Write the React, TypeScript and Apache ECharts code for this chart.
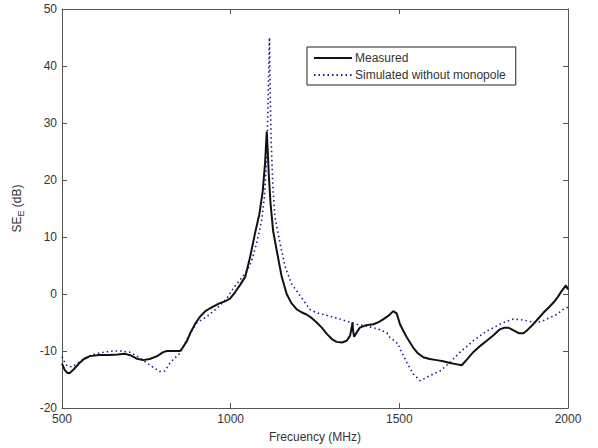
import React, { useEffect, useRef } from "react";
import * as echarts from "echarts";

const measuredFreq = [500,508,515,522,535,550,565,583,610,642,665,687,705,720,740,760,782,800,811,830,850,858,870,880,895,909,925,939,955,968,983,998,1013,1028,1043,1057,1072,1085,1095,1102,1107,1110,1113,1118,1126,1136,1151,1166,1180,1196,1210,1225,1240,1255,1270,1285,1300,1314,1330,1344,1354,1359,1361,1363,1366,1375,1383,1400,1423,1440,1453,1468,1482,1492,1502,1512,1522,1541,1555,1571,1590,1611,1630,1650,1668,1685,1700,1719,1740,1759,1780,1798,1812,1823,1833,1843,1855,1868,1880,1897,1912,1927,1942,1957,1970,1981,1994,2000];
const measuredSE = [-12.2,-13.3,-13.8,-13.9,-13.2,-12.2,-11.4,-10.9,-10.7,-10.7,-10.6,-10.5,-10.8,-11.3,-11.6,-11.4,-10.9,-10.2,-10.0,-10.0,-10.0,-9.4,-8.3,-6.9,-5.2,-4.0,-3.0,-2.5,-2.0,-1.6,-1.3,-0.8,0.3,1.6,3.0,6.3,10.6,14,18,23,28.5,25,21,16,11,7.8,3.1,0.0,-1.6,-2.7,-3.2,-3.6,-4.2,-5.0,-5.9,-7.0,-7.9,-8.4,-8.5,-8.2,-7.3,-5.8,-5.0,-6.5,-7.5,-6.6,-5.9,-5.5,-5.3,-4.9,-4.4,-3.8,-3.0,-3.4,-5.3,-6.5,-7.6,-9.4,-10.4,-11.1,-11.4,-11.6,-11.8,-12.1,-12.3,-12.5,-11.5,-10.2,-9.1,-8.2,-7.2,-6.2,-5.9,-5.9,-6.2,-6.5,-6.9,-6.9,-6.3,-5.3,-4.3,-3.3,-2.4,-1.5,-0.5,0.5,1.5,0.8];

const simFreq = [500,508,515,530,550,575,600,625,650,675,700,720,740,766,790,805,820,835,850,870,885,899,915,929,945,959,975,988,1008,1028,1048,1062,1077,1092,1100,1106,1110,1113,1115,1117,1120,1125,1131,1146,1161,1181,1206,1235,1255,1275,1300,1324,1350,1374,1400,1423,1443,1463,1472,1485,1497,1502,1512,1522,1541,1561,1575,1591,1606,1621,1635,1650,1665,1680,1700,1719,1740,1759,1780,1798,1818,1838,1858,1878,1893,1907,1922,1937,1952,1966,1986,2000];
const simSE = [-11.0,-12.0,-12.6,-12.8,-12.0,-11.0,-10.5,-10.2,-10.0,-10.0,-10.2,-10.8,-11.6,-12.7,-13.6,-13.5,-12.1,-11.2,-10.4,-8.0,-6.4,-5.1,-4.5,-4.0,-3.2,-2.5,-1.6,-0.8,1.0,2.5,4.0,5.8,8.9,13,17,23,31,40,45,36,27,19,13.6,9,4.9,1.7,-0.3,-2.7,-3.3,-3.6,-4.0,-4.4,-4.9,-5.3,-5.6,-5.9,-6.3,-6.8,-7.6,-8.2,-8.8,-9.7,-10.8,-12.0,-14.0,-15.2,-14.8,-14.3,-13.9,-13.5,-12.8,-12.0,-11.1,-10.2,-9.2,-8.2,-7.3,-6.5,-5.9,-5.3,-4.8,-4.4,-4.5,-4.7,-4.9,-5.0,-4.8,-4.4,-4.0,-3.6,-2.7,-2.3];

const xTicks = { min: 500, max: 2000, interval: 500 };
const yTicks = { min: -20, max: 50, interval: 10 };
const seriesNames = ["Measured", "Simulated without monopole"];

export default function App() {
  const ref = useRef<HTMLDivElement>(null);
  useEffect(() => {
    document.body.style.margin = "0";
    const chart = echarts.init(ref.current!, null, { renderer: "svg" });
    const font = "Liberation Sans, Arial, sans-serif";
    const axisColor = "#555";
    const axisCommon = {
      axisLine: { show: true, onZero: false, lineStyle: { color: axisColor, width: 1 } },
      axisTick: { show: true, inside: true, length: 5, lineStyle: { color: axisColor } },
      splitLine: { show: false },
    };
    const fmt = (v: number) => String(v);
    chart.setOption({
      animation: false,
      backgroundColor: "#fff",
      grid: { left: 62, right: 30, top: 9, bottom: 39 },
      legend: {
        orient: "vertical",
        left: 307,
        top: 47,
        itemWidth: 38,
        itemHeight: 10,
        itemGap: 5,
        padding: [5, 10, 4, 6],
        borderColor: "#222",
        borderWidth: 1,
        backgroundColor: "#fff",
        itemStyle: { opacity: 0 },
        textStyle: { fontFamily: font, fontSize: 12, color: "#333", padding: [0, 0, 0, -2] },
        data: seriesNames,
      },
      xAxis: [
        {
          type: "value",
          ...xTicks,
          position: "bottom",
          ...axisCommon,
          axisLabel: { fontFamily: font, fontSize: 12, color: "#333", margin: 5, formatter: fmt },
          name: "Frecuency (MHz)",
          nameLocation: "middle",
          nameGap: 23,
          nameTextStyle: { fontFamily: font, fontSize: 12, color: "#333" },
        },
        {
          type: "value",
          ...xTicks,
          position: "top",
          ...axisCommon,
          axisLabel: { show: false },
        },
      ],
      yAxis: [
        {
          type: "value",
          ...yTicks,
          position: "left",
          ...axisCommon,
          axisLabel: { fontFamily: font, fontSize: 12, color: "#333", margin: 5, formatter: fmt },
          name: "SE{sub|E} (dB)",
          nameLocation: "middle",
          nameGap: 37,
          nameTextStyle: {
            fontFamily: font,
            fontSize: 12,
            color: "#333",
            rich: { sub: { fontFamily: font, fontSize: 9, color: "#333", verticalAlign: "bottom", padding: [7, 0, 0, 0] } },
          },
        },
        {
          type: "value",
          ...yTicks,
          position: "right",
          ...axisCommon,
          axisLabel: { show: false },
        },
      ],
      series: [
        {
          name: seriesNames[0],
          type: "line",
          symbol: "none",
          data: measuredFreq.map((f, i) => [f, measuredSE[i]]),
          lineStyle: { color: "#111", width: 2 },
          itemStyle: { color: "#111" },
          z: 3,
        },
        {
          name: seriesNames[1],
          type: "line",
          symbol: "none",
          data: simFreq.map((f, i) => [f, simSE[i]]),
          lineStyle: { color: "#1c1c8a", width: 1.6, type: [1.5, 3] },
          itemStyle: { color: "#1c1c8a" },
          z: 2,
        },
      ],
    });
    return () => chart.dispose();
  }, []);
  return <div ref={ref} style={{ width: 598, height: 448 }} />;
}
